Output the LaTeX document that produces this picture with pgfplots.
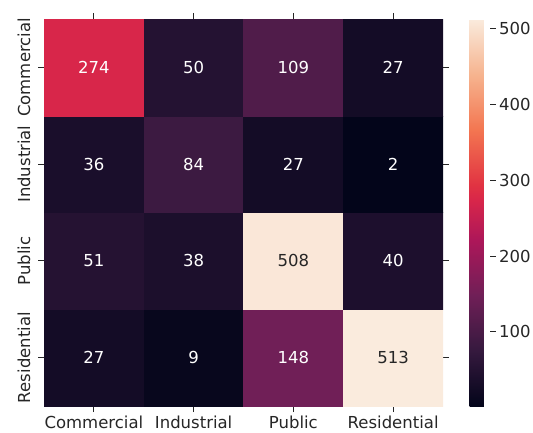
\documentclass[border=0pt]{standalone}
\usepackage{pgfplots}
\pgfplotsset{compat=1.18}
\usepackage{fontspec}
\setmainfont{DejaVu Sans}
\definecolor{lab}{HTML}{262626}
\pgfplotsset{
  colormap={rocket}{
    rgb255(0cm)=(3,5,26)
    rgb255(1.43cm)=(53,25,62)
    rgb255(2.86cm)=(112,31,87)
    rgb255(4.29cm)=(173,23,89)
    rgb255(5.32cm)=(216,38,74)
    rgb255(5.71cm)=(225,51,66)
    rgb255(7.14cm)=(243,118,81)
    rgb255(8.57cm)=(246,180,143)
    rgb255(10cm)=(250,235,221)
  }
}
\newcommand{\fs}{\fontsize{16.5}{20}\selectfont}
\begin{document}
\begin{tikzpicture}[x=1pt,y=1pt]
\path[use as bounding box] (0,0) rectangle (533,432);
\begin{axis}[
  at={(44pt,26pt)}, anchor=south west,
  scale only axis, width=399pt, height=387pt,
  xmin=-0.5, xmax=3.5, ymin=-0.5, ymax=3.5,
  enlargelimits=false,
  axis line style={draw=none},
  tick align=outside, major tick length=6pt,
  tick style={lab, line width=0.8pt},
  xtick={0,1,2,3}, ytick={0,1,2,3},
  xticklabels={Commercial,Industrial,Public,Residential},
  yticklabels={Residential,Public,Industrial,Commercial},
  xticklabel pos=lower, yticklabel pos=left,
  x tick label style={font=\fs, text=lab},
  y tick label style={font=\fs, text=lab, xshift=-4pt, rotate=90, anchor=south},
  colormap name=rocket,
  point meta min=2, point meta max=513,
  colorbar right,
  colorbar style={
    at={(parent axis.north east)}, anchor=north west, xshift=18pt,
    scale only axis, width=20pt, height=387pt,
    axis line style={draw=none},
    ytick={100,200,300,400,500},
    ytick pos=right, yticklabel pos=right,
    tick align=outside, major tick length=6pt,
    tick style={lab, line width=0.8pt},
    y tick label style={font=\fs, text=lab},
    /pgf/number format/assume math mode=true,
  },
]
\addplot[matrix plot*, mesh/cols=4, point meta=explicit] coordinates {
(0,0) [27] (1,0) [9] (2,0) [148] (3,0) [513]
(0,1) [51] (1,1) [38] (2,1) [508] (3,1) [40]
(0,2) [36] (1,2) [84] (2,2) [27] (3,2) [2]
(0,3) [274] (1,3) [50] (2,3) [109] (3,3) [27]
};
\addplot[draw=none, nodes near coords, point meta=explicit symbolic,
  every node near coord/.style={anchor=center, font=\fs, text=white}] coordinates {
(0,0) [27] (1,0) [9] (2,0) [148]
(0,1) [51] (1,1) [38] (3,1) [40]
(0,2) [36] (1,2) [84] (2,2) [27] (3,2) [2]
(0,3) [274] (1,3) [50] (2,3) [109] (3,3) [27]
};
\addplot[draw=none, nodes near coords, point meta=explicit symbolic,
  every node near coord/.style={anchor=center, font=\fs, text=lab}] coordinates {
(3,0) [513] (2,1) [508]
};
\end{axis}
\end{tikzpicture}
\end{document}
